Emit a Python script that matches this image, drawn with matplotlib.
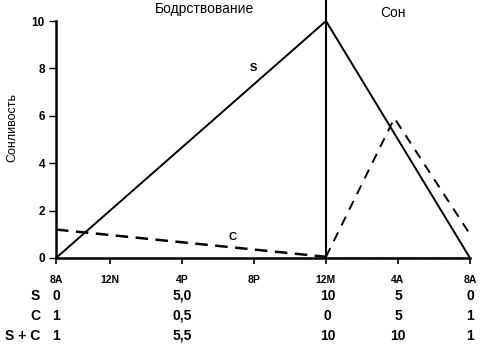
import matplotlib
matplotlib.use("Agg")
import matplotlib.pyplot as plt
import matplotlib.transforms as mtransforms

plt.rcParams['font.family'] = ['Liberation Sans', 'DejaVu Sans']

# Data (hours axis, 8A start = 0)
tick_pos = [0, 3, 7, 11, 15, 19, 23]
tick_labels = ["8A", "12N", "4P", "8P", "12M", "4A", "8A"]
s_x = [0, 15, 23]
s_y = [0, 10, 0]
c_wake_x = [0, 15]
c_wake_y = [1.2, 0.05]
c_sleep_x = [15, 18.8, 23]
c_sleep_y = [0.05, 5.9, 1.0]
y_ticks = [0, 2, 4, 6, 8, 10]

table_rows = ["S", "C", "S + C"]
table_cols_x = [0, 7, 15.1, 19, 23]
table_vals = [
    ["0", "5,0", "10", "5", "0"],
    ["1", "0,5", "0", "5", "1"],
    ["1", "5,5", "10", "10", "1"],
]

W, H = 483, 357
fig = plt.figure(figsize=(W / 100, H / 100), dpi=100)
ax = fig.add_axes([56 / W, 1 - 258 / H, (470 - 56) / W, (258 - 21) / H])

ax.plot(s_x, s_y, color='black', lw=1.4, solid_joinstyle='miter')
ax.plot(c_wake_x, c_wake_y, color='black', lw=1.8, dashes=(5, 3))
ax.plot(c_sleep_x, c_sleep_y, color='black', lw=1.4, dashes=(5, 4))
ax.plot([15, 23], [0.05, 0.05], color='0.4', lw=0.8, ls=':')
ax.plot([15, 15], [0, 10.9], color='black', lw=1.5, clip_on=False)

ax.set_xlim(0, 23)
ax.set_ylim(0, 10)
ax.set_xticks(tick_pos)
ax.set_xticklabels(tick_labels, fontsize=7.5, fontweight='bold')
ax.set_yticks(y_ticks)
ax.set_yticklabels([str(v) for v in y_ticks], fontsize=8.5, fontweight='bold')
ax.tick_params(axis='x', length=4, width=1.2, pad=8)
ax.tick_params(axis='y', length=5, width=1, pad=3)
for s in ['top', 'right']:
    ax.spines[s].set_visible(False)
for s in ['left', 'bottom']:
    ax.spines[s].set_linewidth(1.8)
ax.set_ylabel("Сонливость", fontsize=9)
ax.yaxis.set_label_coords(-38 / (470 - 56) , (258 - 128) / (258 - 21))

ax.text((253 - 56) / 18, (258 - 68) / 23.7, "S", fontsize=8, fontweight='bold', ha='center', va='center')
ax.text((233 - 56) / 18, (258 - 237) / 23.7, "C", fontsize=8, fontweight='bold', ha='center', va='center')

fig.text(205 / W, 1 - 9 / H, "Бодрствование", fontsize=10, ha='center', va='center')
fig.text(393 / W, 1 - 13 / H, "Сон", fontsize=10, ha='center', va='center')

trans = mtransforms.blended_transform_factory(ax.transData, fig.transFigure)
row_y = [1 - 296 / H, 1 - 316 / H, 1 - 336 / H]
for label, yy, vals in zip(table_rows, row_y, table_vals):
    fig.text(40 / W, yy, label, fontsize=10, fontweight='bold', ha='right', va='center')
    for xx, v in zip(table_cols_x, vals):
        ax.text(xx, yy, v, transform=trans, fontsize=10, fontweight='bold',
                ha='center', va='center', clip_on=False)

fig.savefig("out.png", dpi=100)
